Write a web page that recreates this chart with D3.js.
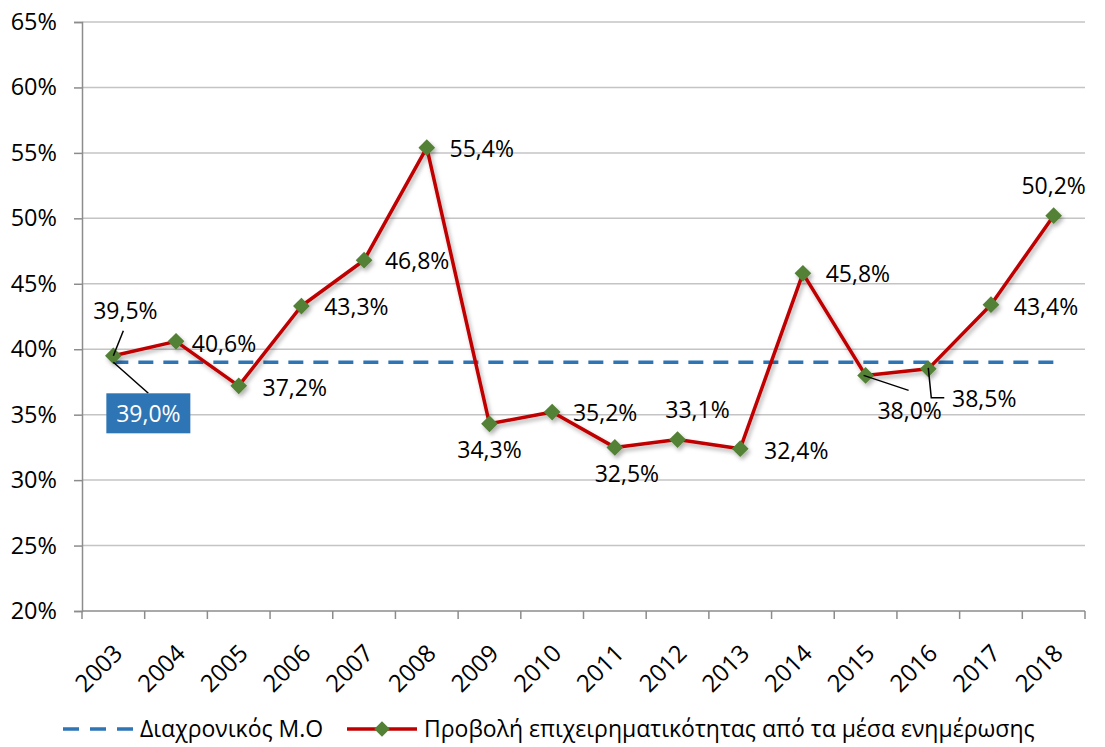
<!DOCTYPE html>
<html>
<head>
<meta charset="utf-8">
<script src="https://cdn.jsdelivr.net/npm/d3@7"></script>
<style>
    body { margin: 0; background: #fff; }
    text { font-family: "Open Sans", "Noto Sans", sans-serif; fill: #000; }
</style>
</head>
<body>
<svg id="chart" width="1105" height="747"></svg>
<script>
// data
var years = ["2003", "2004", "2005", "2006", "2007", "2008", "2009", "2010",
             "2011", "2012", "2013", "2014", "2015", "2016", "2017", "2018"];
var values = [39.5, 40.6, 37.2, 43.3, 46.8, 55.4, 34.3, 35.2,
              32.5, 33.1, 32.4, 45.8, 38.0, 38.5, 43.4, 50.2];
var meanValue = 39.0;
var yTicks = [20, 25, 30, 35, 40, 45, 50, 55, 60, 65];
var seriesNames = ["Διαχρονικός Μ.Ο", "Προβολή επιχειρηματικότητας από τα μέσα ενημέρωσης"];

// label placement (offsets from the point, px)
var labelOffsets = [[12, -45], [48, 2], [56, 2], [55, 1], [53, 1], [55, 1], [0, 26], [53, 1],
                    [12, 26], [20, -30], [56, 2], [55, 0], [44, 35], [56, 30], [55, 2], [0, -30]];

var plotLeft = 82, plotRight = 1085, plotTop = 22, plotBottom = 611;

var fmt = function (v) { return v.toFixed(1).replace(".", ",") + "%"; };

var svg = d3.select("#chart");

var defs = svg.append("defs");
var shadow = defs.append("filter")
        .attr("id", "shadow")
        .attr("x", "-20%").attr("y", "-20%")
        .attr("width", "140%").attr("height", "140%");
shadow.append("feDropShadow")
        .attr("dx", 2).attr("dy", 3)
        .attr("stdDeviation", 2.2)
        .attr("flood-color", "#000")
        .attr("flood-opacity", 0.3);

var x = d3.scaleBand().domain(years).range([plotLeft, plotRight]).padding(0);
var y = d3.scaleLinear().domain([20, 65]).range([plotBottom, plotTop]);
var cx = function (d) { return x(d) + x.bandwidth() / 2; };

// gridlines
svg.append("g").selectAll("line")
        .data(yTicks.slice(1))
        .enter().append("line")
        .attr("x1", plotLeft).attr("x2", plotRight)
        .attr("y1", function (d) { return y(d); })
        .attr("y2", function (d) { return y(d); })
        .attr("stroke", "#c4c4c4")
        .attr("stroke-width", 1.5);

// y axis
var yAxis = svg.append("g")
        .attr("transform", "translate(" + plotLeft + ",0)")
        .call(d3.axisLeft(y).tickValues(yTicks).tickSize(8)
            .tickFormat(function (d) { return d + "%"; }));
yAxis.select(".domain").attr("stroke", "#8c8c8c").attr("stroke-width", 1.5);
yAxis.selectAll(".tick line").attr("stroke", "#8c8c8c").attr("stroke-width", 1.5);
yAxis.selectAll(".tick text")
        .attr("font-size", 23.5)
        .attr("font-family", "Open Sans")
        .attr("fill", "#000")
        .attr("x", -25);

// x axis
svg.append("line")
        .attr("x1", plotLeft).attr("x2", plotRight)
        .attr("y1", plotBottom).attr("y2", plotBottom)
        .attr("stroke", "#8c8c8c").attr("stroke-width", 1.5);
svg.append("g").selectAll("line")
        .data(years.concat(["end"]))
        .enter().append("line")
        .attr("x1", function (d, i) { return i < years.length ? x(d) : plotRight; })
        .attr("x2", function (d, i) { return i < years.length ? x(d) : plotRight; })
        .attr("y1", plotBottom).attr("y2", plotBottom + 8)
        .attr("stroke", "#8c8c8c").attr("stroke-width", 1.5);
svg.append("g").selectAll("text")
        .data(years)
        .enter().append("text")
        .attr("transform", function (d) { return "translate(" + (cx(d) - 2) + "," + (plotBottom + 31) + ") rotate(-45)"; })
        .attr("text-anchor", "end")
        .attr("dy", "0.75em")
        .attr("font-size", 24)
        .text(function (d) { return d; });

// mean line
svg.append("line")
        .attr("x1", cx(years[0])).attr("x2", cx(years[years.length - 1]))
        .attr("y1", y(meanValue)).attr("y2", y(meanValue))
        .attr("stroke", "#2e75b6")
        .attr("stroke-width", 3.5)
        .attr("stroke-dasharray", "15,10");

// series line + markers
var line = d3.line()
        .x(function (d, i) { return cx(years[i]); })
        .y(function (d) { return y(d); });

var series = svg.append("g").attr("filter", "url(#shadow)");
series.append("path")
        .datum(values)
        .attr("d", line)
        .attr("fill", "none")
        .attr("stroke", "#c00000")
        .attr("stroke-width", 3.5)
        .attr("stroke-linejoin", "round");
series.selectAll(".marker")
        .data(values)
        .enter().append("path")
        .attr("class", "marker")
        .attr("d", d3.symbol().type(d3.symbolSquare).size(140))
        .attr("transform", function (d, i) { return "translate(" + cx(years[i]) + "," + y(d) + ") rotate(45)"; })
        .attr("fill", "#538135");

// leader lines
var leaders = [
    {i: 0, pts: [[0, 0], [10, -25]]},
    {i: 12, pts: [[-2, 0], [43, 15]]},
    {i: 13, pts: [[0, -1], [3, 29], [16, 29]]}
];
svg.append("g").selectAll("path")
        .data(leaders)
        .enter().append("path")
        .attr("d", function (d) {
            var px = cx(years[d.i]), py = y(values[d.i]);
            return d3.line()(d.pts.map(function (p) { return [px + p[0], py + p[1]]; }));
        })
        .attr("fill", "none")
        .attr("stroke", "#000")
        .attr("stroke-width", 1.5);

// data labels
svg.append("g").selectAll("text")
        .data(values)
        .enter().append("text")
        .attr("x", function (d, i) { return cx(years[i]) + labelOffsets[i][0]; })
        .attr("y", function (d, i) { return y(d) + labelOffsets[i][1]; })
        .attr("text-anchor", "middle")
        .attr("dy", "0.36em")
        .attr("font-size", 23)
        .text(function (d) { return fmt(d); });

// mean label box
var mx = cx(years[0]), my = y(meanValue);
svg.append("line")
        .attr("x1", mx).attr("y1", my)
        .attr("x2", mx + 35).attr("y2", my + 31)
        .attr("stroke", "#000").attr("stroke-width", 1.5);
svg.append("rect")
        .attr("x", mx - 7).attr("y", my + 31)
        .attr("width", 84).attr("height", 40)
        .attr("fill", "#2e75b6");
svg.append("text")
        .attr("x", mx + 35).attr("y", my + 51)
        .attr("text-anchor", "middle")
        .attr("dy", "0.36em")
        .attr("font-size", 23)
        .style("fill", "#fff")
        .text(fmt(meanValue));

// legend
var legend = svg.append("g").attr("transform", "translate(0,729)");
legend.append("line")
        .attr("x1", 63).attr("x2", 133)
        .attr("stroke", "#2e75b6").attr("stroke-width", 3.5)
        .attr("stroke-dasharray", "16,11");
legend.append("text")
        .attr("x", 140).attr("dy", "0.36em")
        .attr("font-size", 23)
        .text(seriesNames[0]);
legend.append("line")
        .attr("x1", 347).attr("x2", 417)
        .attr("stroke", "#c00000").attr("stroke-width", 3.5);
legend.append("path")
        .attr("d", d3.symbol().type(d3.symbolSquare).size(120))
        .attr("transform", "translate(382,0) rotate(45)")
        .attr("fill", "#538135");
legend.append("text")
        .attr("x", 424).attr("dy", "0.36em")
        .attr("font-size", 23)
        .text(seriesNames[1]);
</script>
</body>
</html>
